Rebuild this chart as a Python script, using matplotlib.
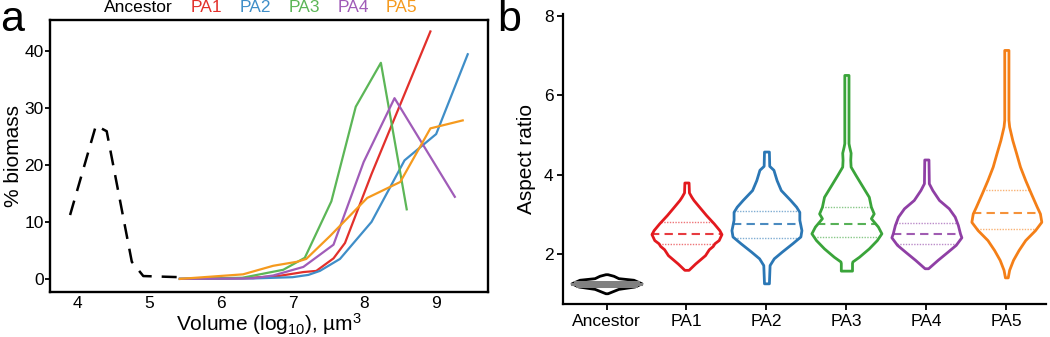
import matplotlib.pyplot as plt
import numpy as np

plt.rcParams['font.family'] = ['Liberation Sans', 'DejaVu Sans']
plt.rcParams['mathtext.fontset'] = 'custom'
plt.rcParams['mathtext.rm'] = 'Liberation Sans'
plt.rcParams['mathtext.it'] = 'Liberation Sans:italic'

# panel a: % biomass vs log10 cell volume
anc_vol = [3.90, 4.26, 4.41, 4.76, 4.92, 5.43]
anc_bio = [11.2, 26.9, 25.9, 3.0, 0.5, 0.3]

pa1_vol = [5.43, 6.30, 6.80, 7.15, 7.33, 7.57, 7.73, 8.10, 8.92]
pa1_bio = [0.0, 0.1, 0.5, 1.2, 1.4, 3.6, 6.3, 18.4, 43.4]
pa2_vol = [5.43, 6.50, 7.00, 7.22, 7.38, 7.66, 8.10, 8.56, 9.00, 9.44]
pa2_bio = [0.0, 0.1, 0.3, 0.7, 1.4, 3.5, 10.0, 20.8, 25.4, 39.4]
pa3_vol = [5.43, 6.30, 6.87, 7.17, 7.54, 7.88, 8.23, 8.59]
pa3_bio = [0.0, 0.2, 1.6, 3.7, 13.6, 30.2, 37.9, 12.2]
pa4_vol = [5.43, 6.45, 6.73, 7.15, 7.57, 7.99, 8.42, 9.26]
pa4_bio = [0.0, 0.1, 0.6, 2.1, 6.0, 20.5, 31.7, 14.4]
pa5_vol = [5.43, 6.31, 6.73, 7.06, 7.19, 7.52, 8.04, 8.50, 8.92, 9.37]
pa5_bio = [0.0, 0.8, 2.3, 3.0, 3.5, 7.5, 14.2, 17.0, 26.4, 27.8]

strains = ['Ancestor', 'PA1', 'PA2', 'PA3', 'PA4', 'PA5']

# panel b: aspect ratio density profiles (relative density, 1 = widest)
anc_y = [1.01, 1.12, 1.18, 1.26, 1.35, 1.39, 1.45, 1.49]
anc_d = [0.03, 0.34, 0.80, 1.0, 0.77, 0.34, 0.20, 0.03]
pa1_y = [1.60, 1.76, 1.97, 2.12, 2.20, 2.27, 2.35, 2.50, 2.60, 2.77, 2.98, 3.19, 3.36, 3.44, 3.55, 3.80]
pa1_d = [0.06, 0.25, 0.53, 0.64, 0.75, 0.80, 0.92, 1.0, 0.94, 0.78, 0.56, 0.36, 0.20, 0.14, 0.07, 0.06]
pa2_y = [1.26, 1.72, 1.89, 2.06, 2.27, 2.44, 2.60, 2.73, 2.86, 3.06, 3.19, 3.36, 3.61, 3.86, 4.12, 4.22, 4.58]
pa2_d = [0.07, 0.09, 0.21, 0.44, 0.74, 0.97, 1.0, 0.97, 0.94, 0.94, 0.85, 0.68, 0.41, 0.29, 0.20, 0.08, 0.07]
pa3_y = [1.58, 1.77, 1.81, 1.93, 2.14, 2.35, 2.52, 2.69, 2.90, 3.02, 3.19, 3.44, 3.70, 3.99, 4.20, 4.37, 4.55, 4.70, 4.79, 6.51]
pa3_d = [0.16, 0.16, 0.17, 0.36, 0.64, 0.87, 1.0, 0.90, 0.70, 0.78, 0.70, 0.64, 0.46, 0.26, 0.12, 0.11, 0.12, 0.08, 0.06, 0.06]
pa4_y = [1.64, 1.85, 2.06, 2.23, 2.42, 2.52, 2.73, 2.94, 3.15, 3.36, 3.61, 3.78, 4.38]
pa4_d = [0.05, 0.32, 0.61, 0.84, 1.0, 0.96, 0.90, 0.81, 0.64, 0.36, 0.17, 0.07, 0.06]
pa5_y = [1.41, 1.60, 1.85, 2.10, 2.35, 2.60, 2.81, 3.02, 3.19, 3.53, 3.86, 4.20, 4.54, 4.87, 5.21, 5.38, 7.14]
pa5_d = [0.04, 0.08, 0.19, 0.35, 0.54, 0.82, 1.0, 0.96, 0.87, 0.70, 0.54, 0.39, 0.28, 0.17, 0.08, 0.06, 0.06]

# lower quartile, median, upper quartile
quartiles = [[1.20, 1.25, 1.30], [2.24, 2.50, 2.81], [2.41, 2.76, 3.08],
             [2.42, 2.76, 3.18], [2.24, 2.50, 2.79], [2.63, 3.03, 3.61]]

line_colors = ['black', '#e2302b', '#3f8ec8', '#5cb657', '#a05cb8', '#f59a1e']
violin_colors = ['black', '#e3191e', '#2b77b5', '#3aa43a', '#8f3fa5', '#f47f17']

fig = plt.figure(figsize=(10.5, 3.37), dpi=100)

# ---- panel a
ax1 = fig.add_axes([0.0476, 0.1335, 0.417, 0.807])
ax1.plot(anc_vol, anc_bio, color='black', lw=1.8, dashes=(6, 4), label=strains[0])
series = [(pa1_vol, pa1_bio), (pa2_vol, pa2_bio), (pa3_vol, pa3_bio),
          (pa4_vol, pa4_bio), (pa5_vol, pa5_bio)]
for (xv, yv), c, name in zip(series, line_colors[1:], strains[1:]):
    ax1.plot(xv, yv, color=c, lw=1.6, label=name)
ax1.set_xlim(3.62, 9.72)
ax1.set_ylim(-2.3, 45.4)
ax1.set_xticks([4, 5, 6, 7, 8, 9])
ax1.set_yticks([0, 10, 20, 30, 40])
ax1.tick_params(axis='x', length=0, pad=3, labelsize=12.5)
ax1.tick_params(axis='y', length=3.5, width=1.3, pad=1, labelsize=12.5)
for s in ax1.spines.values():
    s.set_linewidth(1.7)
ax1.set_xlabel('Volume (log$_{10}$), µm$^3$', fontsize=15, labelpad=0)
ax1.set_ylabel('% biomass', fontsize=15, labelpad=1)
ax1.legend(loc='center', bbox_to_anchor=(0.482, 1.046), ncol=6, frameon=False,
           handlelength=0, handletextpad=0, columnspacing=1.0, borderpad=0,
           labelcolor='linecolor', fontsize=12.5)

# ---- panel b
ax2 = fig.add_axes([0.5365, 0.098, 0.46, 0.861])
profiles = [(anc_y, anc_d), (pa1_y, pa1_d), (pa2_y, pa2_d),
            (pa3_y, pa3_d), (pa4_y, pa4_d), (pa5_y, pa5_d)]
vpstats = []
for (yv, dv), q in zip(profiles, quartiles):
    vpstats.append(dict(coords=np.array(yv), vals=np.array(dv), mean=q[1],
                        median=q[1], min=min(yv), max=max(yv)))
vw = 0.875
parts = ax2.violin(vpstats, positions=range(len(strains)), widths=vw,
                   showmeans=False, showextrema=False, showmedians=False)
for body, c in zip(parts['bodies'], violin_colors):
    body.set_facecolor('white')
    body.set_edgecolor(c)
    body.set_linewidth(2.0)
    body.set_alpha(1)
    body.set_zorder(3)

for i, ((yv, dv), q, c) in enumerate(zip(profiles, quartiles, violin_colors)):
    for k, qv in enumerate(q):
        hw = 0.5 * vw * np.interp(qv, yv, dv)
        if i == 0:
            ax2.plot([i - hw, i + hw], [qv, qv], color='#808080', lw=2.2, zorder=4)
        elif k == 1:
            ax2.plot([i - hw, i + hw], [qv, qv], color=c, lw=1.5, dashes=(4, 2.5),
                     alpha=0.85, zorder=4)
        else:
            ax2.plot([i - hw, i + hw], [qv, qv], color=c, lw=1.0, dashes=(1, 1),
                     alpha=0.6, zorder=4)

ax2.set_xlim(-0.54, 5.5)
ax2.set_ylim(0.74, 8.05)
ax2.set_yticks([2, 4, 6, 8])
ax2.set_xticks(range(len(strains)))
ax2.set_xticklabels(strains)
ax2.spines['top'].set_visible(False)
ax2.spines['right'].set_visible(False)
for s in ['left', 'bottom']:
    ax2.spines[s].set_linewidth(1.6)
ax2.tick_params(length=4, width=1.3, labelsize=12.5, pad=3)
ax2.set_ylabel('Aspect ratio', fontsize=15, labelpad=6)

fig.text(0.0, 1.0, 'a', fontsize=31, ha='left', va='top')
fig.text(0.474, 1.0, 'b', fontsize=31, ha='left', va='top')

fig.savefig('out.png', dpi=100)
plt.close(fig)
